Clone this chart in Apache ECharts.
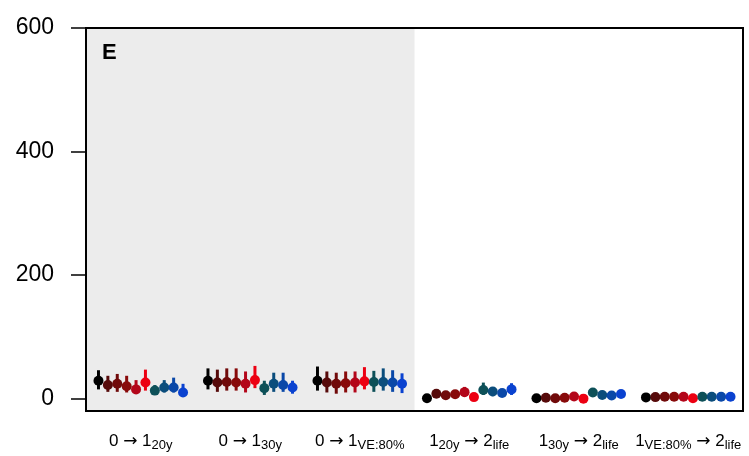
<!DOCTYPE html>
<html><head><meta charset="utf-8">
<script src="https://cdn.jsdelivr.net/npm/echarts@6/dist/echarts.min.js"></script>
<style>html,body{margin:0;padding:0;background:#fff}#c{width:749px;height:456px}</style>
</head><body><div id="c"></div>
<script>
// Category labels: pieces of [text, 'b' (base) | 's' (subscript) | 'a' (arrow)]
var labelParts = [
  [['0 ','b'],['→','a'],[' 1','b'],['20y','s']],
  [['0 ','b'],['→','a'],[' 1','b'],['30y','s']],
  [['0 ','b'],['→','a'],[' 1','b'],['VE:80%','s']],
  [['1','b'],['20y','s'],[' ','b'],['→','a'],[' 2','b'],['life','s']],
  [['1','b'],['30y','s'],[' ','b'],['→','a'],[' 2','b'],['life','s']],
  [['1','b'],['VE:80%','s'],[' ','b'],['→','a'],[' 2','b'],['life','s']]
];
var yTicks = [0, 200, 400, 600];
var panelLabel = 'E';

var colors = ['#000000','#560a0a','#700a0a','#880a0a','#b3061a','#ec0012','#0d5058','#0b4d7c','#0a48a8','#0a42d0'];

// values per series (10 series), one per category group
var mid1 = [29, 29, 29, 0.5, 0.5, 2],   lo1 = [15, 15, 13, 0, 0, 0],  hi1 = [46, 49, 52, 1, 1, 4];
var mid2 = [22, 26, 26, 8, 1.5, 2.5],   lo2 = [11, 11, 10, 5, 0, 0],  hi2 = [37, 47, 44, 11, 3, 5];
var mid3 = [24, 27, 24, 5.5, 0.5, 3],   lo3 = [11, 13, 8, 3, 0, 1],   hi3 = [40, 49, 42, 8, 2, 5];
var mid4 = [20, 26, 25, 7, 1.5, 3],     lo4 = [10, 13, 10, 4, 0, 1],  hi4 = [37, 49, 44, 10, 3, 5];
var mid5 = [15, 24, 26, 10.5, 3.5, 3],  lo5 = [8, 10, 10, 3, 1, 1],   hi5 = [30, 44, 44, 19, 6, 5];
var mid6 = [26, 30, 28, 2.5, 0, 0.5],   lo6 = [13, 17, 15, 0, 0, 0],  hi6 = [47, 53, 51, 5, 1, 1];
var mid7 = [13, 17, 27, 14, 10, 3],     lo7 = [6, 6, 11, 6, 5, 1],    hi7 = [22, 29, 45, 26, 17, 5];
var mid8 = [18, 24, 27, 11.5, 6, 3],    lo8 = [10, 11, 13, 4, 3, 1],  hi8 = [30, 42, 49, 18, 9, 5];
var mid9 = [18, 22, 26, 9, 5, 3],       lo9 = [10, 11, 11, 5, 2, 1],  hi9 = [34, 42, 46, 13, 8, 5];
var mid10 = [10, 18, 24, 15, 7.5, 3],   lo10 = [4, 8, 9, 6, 4, 1],    hi10 = [24, 29, 41, 25, 11, 5];

var mids = [mid1,mid2,mid3,mid4,mid5,mid6,mid7,mid8,mid9,mid10];
var los = [lo1,lo2,lo3,lo4,lo5,lo6,lo7,lo8,lo9,lo10];
var his = [hi1,hi2,hi3,hi4,hi5,hi6,hi7,hi8,hi9,hi10];

var chart = echarts.init(document.getElementById('c'));
var FONT = 'Liberation Sans, Arial, sans-serif';
var series = [];
var spread = 0.0858;
for (var k = 0; k < 10; k++) {
  (function(k){
    var off = (k - 4.5) * spread;
    var barData = [], ptData = [];
    for (var g = 0; g < 6; g++) {
      barData.push([g + 1 + off, los[k][g], his[k][g]]);
      ptData.push([g + 1 + off, mids[k][g]]);
    }
    series.push({
      type: 'custom', xAxisIndex: 0, yAxisIndex: 0, z: 2,
      encode: {x: 0, y: [1, 2]},
      data: barData,
      renderItem: function(params, api) {
        var p1 = api.coord([api.value(0), api.value(1)]);
        var p2 = api.coord([api.value(0), api.value(2)]);
        return {type: 'line', shape: {x1: p1[0], y1: p1[1], x2: p2[0], y2: p2[1]},
                style: {stroke: colors[k], lineWidth: 3}};
      },
      silent: true, animation: false
    });
    var s = {
      type: 'scatter', xAxisIndex: 0, yAxisIndex: 0, z: 3,
      data: ptData, symbol: 'circle', symbolSize: 10,
      itemStyle: {color: colors[k], opacity: 1},
      silent: true, animation: false
    };
    if (k === 0) {
      s.markArea = {
        silent: true, z: 1,
        itemStyle: {color: '#ececec'},
        data: [[{xAxis: 0.5, yAxis: -20}, {xAxis: 3.5, yAxis: 600}]]
      };
    }
    series.push(s);
  })(k);
}

var rich = {
  b: {fontSize: 17, fontFamily: FONT, color: '#000', lineHeight: 19, verticalAlign: 'top'},
  a: {fontSize: 17, fontFamily: 'DejaVu Sans, sans-serif', color: '#000', lineHeight: 19, verticalAlign: 'top'},
  s: {fontSize: 13, fontFamily: FONT, color: '#000', lineHeight: 13, verticalAlign: 'bottom'}
};

chart.setOption({
  animation: false,
  backgroundColor: '#fff',
  title: {text: panelLabel, left: 97, top: 37,
          textStyle: {fontFamily: FONT, fontSize: 22, fontWeight: 'bold', color: '#000'}},
  grid: {left: 86, right: 6, top: 28, bottom: 45, show: true, borderColor: '#000',
         borderWidth: 2, backgroundColor: 'transparent', z: 10},
  xAxis: [
    {type: 'value', min: 0.5, max: 6.5, show: false},
    {type: 'category', data: labelParts.map(function(p, i){ return String(i); }),
     position: 'bottom', boundaryGap: true,
     axisLine: {show: false},
     axisTick: {alignWithLabel: true, length: 12, lineStyle: {color: '#000', width: 1.5}},
     splitLine: {show: false},
     axisLabel: {
       margin: 22, interval: 0,
       formatter: function(v) {
         return labelParts[+v].map(function(p){ return '{' + p[1] + '|' + p[0] + '}'; }).join('');
       },
       rich: rich
     }}
  ],
  yAxis: {
    type: 'value', min: -20, max: 600,
    axisLine: {show: false},
    splitLine: {show: false},
    axisTick: {show: true, length: 15, customValues: yTicks, lineStyle: {color: '#000', width: 1.5}},
    axisLabel: {customValues: yTicks, margin: 32, fontSize: 23, fontFamily: FONT, color: '#000'}
  },
  series: series
});
</script></body></html>
